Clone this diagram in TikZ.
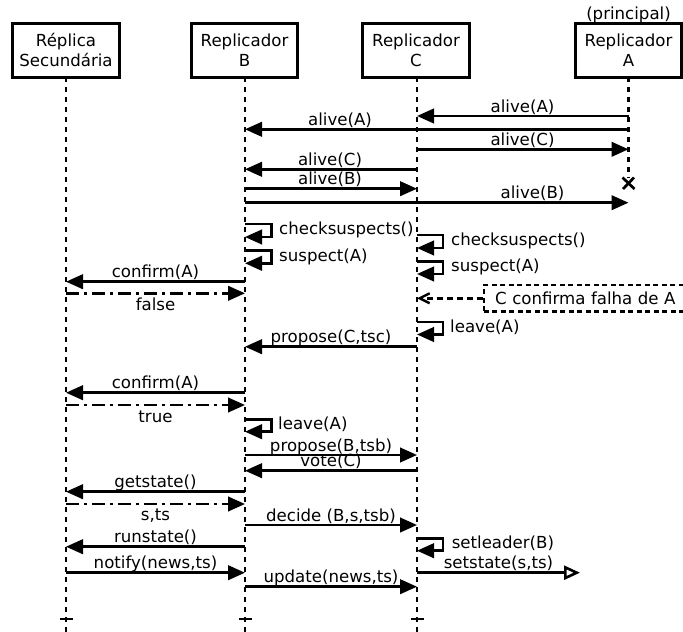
\documentclass[tikz,border=0pt]{standalone}
\usepackage{fontspec}
\setmainfont{DejaVu Sans}
\usetikzlibrary{arrows.meta}
\begin{document}
\begin{tikzpicture}[x=1pt,y=-1pt,
  every node/.style={font=\fontsize{16.6}{20}\selectfont},
  hbox/.style={draw,line width=2.9pt,minimum width=106.6pt,minimum height=54pt,align=center,inner sep=0pt},
  lifeline/.style={line width=2.7pt,dash pattern=on 5pt off 5pt},
  msg/.style={line width=2.6pt,-{Triangle[length=17pt,width=14.5pt]}},
  ret/.style={msg,dash pattern=on 13pt off 5pt on 3pt off 5pt},
  lab/.style={anchor=base,inner sep=0pt},
  llab/.style={anchor=base west,inner sep=0pt},
  tick/.style={line width=2.7pt}]
\useasboundingbox (0,0) rectangle (683,632);
% headers
\node[hbox] (R) at (66,50.3) {Réplica\\Secundária};
\node[hbox] (B) at (244.5,50.3) {Replicador\\B};
\node[hbox] (C) at (416,50.3) {Replicador\\C};
\node[hbox] (A) at (628.5,50.3) {Replicador\\A};
\node[lab] (princ) at (628.5,19.3) {(principal)};
% lifelines
\coordinate (Rtop) at (66,77.3);   \coordinate (Rend) at (66,634);
\coordinate (Btop) at (245,77.3);  \coordinate (Bend) at (245,634);
\coordinate (Ctop) at (417,77.3);  \coordinate (Cend) at (417,634);
\coordinate (Atop) at (628.5,77.3);\coordinate (Aend) at (628.5,178);
\draw[lifeline] (Rtop) -- (Rend);
\draw[lifeline] (Btop) -- (Bend);
\draw[lifeline] (Ctop) -- (Cend);
\draw[lifeline] (Atop) -- (Aend);
% destruction X on A
\coordinate (X1) at (622.5,177.5); \coordinate (X2) at (634.5,189);
\coordinate (X3) at (623,189); \coordinate (X4) at (634,177.5);
\draw[line width=2.7pt] (X1) -- (X2) (X3) -- (X4);
% end ticks
\coordinate (Rt1) at (59.5,619); \coordinate (Rt2) at (72.5,619);
\coordinate (Bt1) at (238.5,619); \coordinate (Bt2) at (251.5,619);
\coordinate (Ct1) at (410.5,619); \coordinate (Ct2) at (423.5,619);
\draw[tick] (Rt1) -- (Rt2);
\draw[tick] (Bt1) -- (Bt2);
\draw[tick] (Ct1) -- (Ct2);
% 1 alive(A) A->C
\coordinate (m1a) at (628.5,116); \coordinate (m1b) at (417,116);
\draw[msg] (m1a) -- (m1b);
\node[lab] (l1) at (522.5,112) {alive(A)};
% 2 alive(A) A->B
\coordinate (m2a) at (628.5,129.3); \coordinate (m2b) at (245,129.3);
\draw[msg] (m2a) -- (m2b);
\node[lab] (l2) at (340,125.3) {alive(A)};
% 3 alive(C) C->A
\coordinate (m3a) at (417,149.3); \coordinate (m3b) at (628.5,149.3);
\draw[msg] (m3a) -- (m3b);
\node[lab] (l3) at (522.5,145.3) {alive(C)};
% 4 alive(C) C->B
\coordinate (m4a) at (417,169.3); \coordinate (m4b) at (245,169.3);
\draw[msg] (m4a) -- (m4b);
\node[lab] (l4) at (330,165.3) {alive(C)};
% 5 alive(B) B->C
\coordinate (m5a) at (245,188.7); \coordinate (m5b) at (417,188.7);
\draw[msg] (m5a) -- (m5b);
\node[lab] (l5) at (330,184.7) {alive(B)};
% 6 alive(B) B->A
\coordinate (m6a) at (245,202.7); \coordinate (m6b) at (628.5,202.7);
\draw[msg] (m6a) -- (m6b);
\node[lab] (l6) at (532.5,198.3) {alive(B)};
% 7 B checksuspects
\coordinate (s7a) at (245,224); \coordinate (s7b) at (245,237);
\draw[msg] (s7a) -- ++(26.7,0) |- (s7b);
\node[llab] (l7) at (279,234.5) {checksuspects()};
% 8 C checksuspects
\coordinate (s8a) at (417,235); \coordinate (s8b) at (417,248);
\draw[msg] (s8a) -- ++(26,0) |- (s8b);
\node[llab] (l8) at (451,245.5) {checksuspects()};
% 9 B suspect(A)
\coordinate (s9a) at (245,250.7); \coordinate (s9b) at (245,263.3);
\draw[msg] (s9a) -- ++(26.7,0) |- (s9b);
\node[llab] (l9) at (279,261) {suspect(A)};
% 10 C suspect(A)
\coordinate (s10a) at (417,261.7); \coordinate (s10b) at (417,274);
\draw[msg] (s10a) -- ++(26,0) |- (s10b);
\node[llab] (l10) at (451,271.5) {suspect(A)};
% 11 confirm(A) B->R
\coordinate (m11a) at (245,281.7); \coordinate (m11b) at (66,281.7);
\draw[msg] (m11a) -- (m11b);
\node[lab] (l11) at (155.5,277.7) {confirm(A)};
% 12 false R->B
\coordinate (m12a) at (66,293.3); \coordinate (m12b) at (245,293.3);
\draw[ret] (m12a) -- (m12b);
\node[lab] (l12) at (155.5,310.5) {false};
% 13 note
\node[draw,dash pattern=on 5pt off 3.5pt,line width=2.4pt,anchor=west,
      text width=200pt,align=left,inner xsep=11.3pt,minimum height=26.7pt,inner ysep=0pt]
      (note) at (482.7,298.3) {C confirma falha de A};
\coordinate (n13) at (417,298.3);
\draw[line width=2.4pt,dash pattern=on 6pt off 4pt,-{Straight Barb[length=10pt,width=10pt]}] (note.west) -- (n13);
% 14 C leave(A)
\coordinate (s14a) at (417,322); \coordinate (s14b) at (417,334.5);
\draw[msg] (s14a) -- ++(26,0) |- (s14b);
\node[llab] (l14) at (450,332.3) {leave(A)};
% 15 propose(C,tsc) C->B
\coordinate (m15a) at (417,346.7); \coordinate (m15b) at (245,346.7);
\draw[msg] (m15a) -- (m15b);
\node[lab] (l15) at (331,342.7) {propose(C,tsc)};
% 16 confirm(A) B->R
\coordinate (m16a) at (245,392.7); \coordinate (m16b) at (66,392.7);
\draw[msg] (m16a) -- (m16b);
\node[lab] (l16) at (155.5,388.7) {confirm(A)};
% 17 true R->B
\coordinate (m17a) at (66,405); \coordinate (m17b) at (245,405);
\draw[ret] (m17a) -- (m17b);
\node[lab] (l17) at (155.5,422) {true};
% 18 B leave(A)
\coordinate (s18a) at (245,419.3); \coordinate (s18b) at (245,431.7);
\draw[msg] (s18a) -- ++(26.7,0) |- (s18b);
\node[llab] (l18) at (278,429.5) {leave(A)};
% 19 propose(B,tsb) B->C
\coordinate (m19a) at (245,455); \coordinate (m19b) at (417,455);
\draw[msg] (m19a) -- (m19b);
\node[lab] (l19) at (331,451) {propose(B,tsb)};
% 20 vote(C) C->B
\coordinate (m20a) at (417,470.7); \coordinate (m20b) at (245,470.7);
\draw[msg] (m20a) -- (m20b);
\node[lab] (l20) at (331,466.7) {vote(C)};
% 21 getstate() B->R
\coordinate (m21a) at (245,491.7); \coordinate (m21b) at (66,491.7);
\draw[msg] (m21a) -- (m21b);
\node[lab] (l21) at (155.5,487.7) {getstate()};
% 22 s,ts R->B
\coordinate (m22a) at (66,504); \coordinate (m22b) at (245,504);
\draw[ret] (m22a) -- (m22b);
\node[lab] (l22) at (155.5,520) {s,ts};
% 23 decide B->C
\coordinate (m23a) at (245,525); \coordinate (m23b) at (417,525);
\draw[msg] (m23a) -- (m23b);
\node[lab] (l23) at (331,521) {decide (B,s,tsb)};
% 24 runstate() B->R
\coordinate (m24a) at (245,546.7); \coordinate (m24b) at (66,546.7);
\draw[msg] (m24a) -- (m24b);
\node[lab] (l24) at (155.5,542.7) {runstate()};
% 25 C setleader(B)
\coordinate (s25a) at (417,538.3); \coordinate (s25b) at (417,550.7);
\draw[msg] (s25a) -- ++(26,0) |- (s25b);
\node[llab] (l25) at (451.6,548.5) {setleader(B)};
% 26 notify R->B
\coordinate (m26a) at (66,572.7); \coordinate (m26b) at (245,572.7);
\draw[msg] (m26a) -- (m26b);
\node[lab] (l26) at (155.5,568.7) {notify(news,ts)};
% 27 setstate C->
\coordinate (m27a) at (417,572.7); \coordinate (m27b) at (580,572.7);
\draw[line width=2.6pt,-{Triangle[open,length=16pt,width=14pt,fill=white,line width=2.6pt]}] (m27a) -- (m27b);
\node[lab] (l27) at (498.5,568.7) {setstate(s,ts)};
% 28 update B->C
\coordinate (m28a) at (245,586.7); \coordinate (m28b) at (417,586.7);
\draw[msg] (m28a) -- (m28b);
\node[lab] (l28) at (331,582.7) {update(news,ts)};
\end{tikzpicture}
\end{document}
